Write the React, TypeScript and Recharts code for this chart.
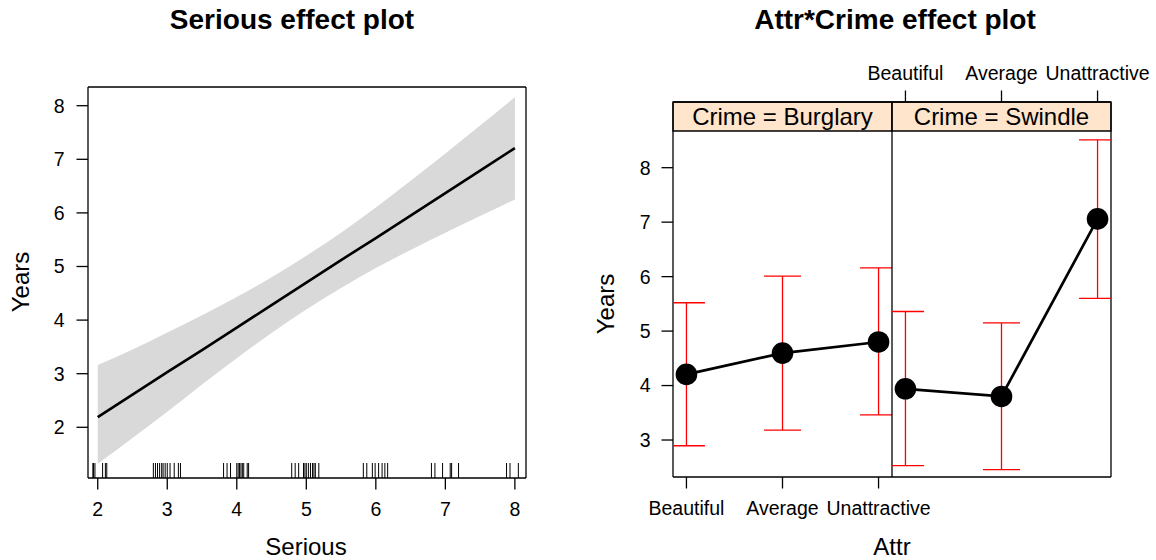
import { Area, ComposedChart, ErrorBar, Line, ReferenceArea, Scatter, XAxis, YAxis } from "recharts";

const FONT = "'Liberation Sans', Arial, Helvetica, sans-serif";

// Serious effect: fitted line and 95% band at half steps
const seriousX = [2, 2.5, 3, 3.5, 4, 4.5, 5, 5.5, 6, 6.5, 7, 7.5, 8];
const seriousFit = [2.19, 2.61, 3.03, 3.44, 3.86, 4.28, 4.7, 5.12, 5.53, 5.95, 6.37, 6.79, 7.21];
const seriousLower = [1.32, 1.8, 2.29, 2.8, 3.29, 3.76, 4.2, 4.6, 4.97, 5.31, 5.63, 5.94, 6.25];
const seriousUpper = [3.16, 3.45, 3.77, 4.09, 4.43, 4.8, 5.2, 5.63, 6.1, 6.6, 7.11, 7.63, 8.16];

// jittered Serious values shown as the rug
const seriousRug = [
  1.93, 1.94, 1.96, 2.07, 2.11, 2.13, 2.8, 2.83, 2.86, 2.89, 2.92, 2.94, 2.97, 3.0, 3.04, 3.1,
  3.16, 3.19, 3.81, 3.86, 3.91, 4.0, 4.02, 4.04, 4.06, 4.08, 4.1, 4.15, 4.17, 4.79, 4.84, 4.89,
  4.96, 4.98, 5.0, 5.03, 5.06, 5.09, 5.11, 5.13, 5.18, 5.82, 5.87, 5.95, 5.99, 6.04, 6.09, 6.13,
  6.17, 6.8, 6.85, 6.96, 7.07, 7.09, 7.19, 7.88, 7.93, 8.05,
];

const seriousTicks = [2, 3, 4, 5, 6, 7, 8];
const yearsTicksLeft = [2, 3, 4, 5, 6, 7, 8];

// Attr*Crime effect
const attrLevels = ["Beautiful", "Average", "Unattractive"];
const burglaryFit = [4.205, 4.596, 4.8];
const burglaryLower = [2.895, 3.18, 3.46];
const burglaryUpper = [5.52, 6.01, 6.16];
const swindleFit = [3.94, 3.8, 7.06];
const swindleLower = [2.53, 2.455, 5.6];
const swindleUpper = [5.36, 5.15, 8.51];
const yearsTicksRight = [3, 4, 5, 6, 7, 8];
const attrTicks = [1, 2, 3];

const SERIOUS_X_DOMAIN: [number, number] = [1.86, 8.16];
const SERIOUS_Y_DOMAIN: [number, number] = [1.054, 8.349];
const ATTR_X_DOMAIN: [number, number] = [0.86, 3.14];
const CRIME_Y_DOMAIN: [number, number] = [2.321, 9.206];
const STRIP_BOTTOM = 8.674;

const TICK = 11.5;
const tickStyle = { fill: "#000", fontSize: 19.5, fontFamily: FONT };
const noMargin = { top: 0, right: 0, bottom: 0, left: 0 };

function RugMark(p: any) {
  return <line x1={p.cx} x2={p.cx} y1={p.cy} y2={p.cy - 15} stroke="#000" strokeWidth={1} />;
}

function SeriousPanel() {
  const rows = seriousX.map((x, i) => ({
    x,
    fit: seriousFit[i],
    band: [seriousLower[i], seriousUpper[i]],
  }));
  const rug = seriousRug.map((x) => ({ x, base: SERIOUS_Y_DOMAIN[0] }));
  return (
    <div style={{ position: "absolute", left: 0, top: 0 }}>
      <ComposedChart width={578} height={560} data={rows} margin={noMargin}>
        <XAxis
          dataKey="x"
          type="number"
          domain={SERIOUS_X_DOMAIN}
          allowDataOverflow
          ticks={seriousTicks}
          interval={0}
          height={82}
          stroke="#000"
          strokeWidth={1.3}
          tickSize={TICK}
          tickMargin={13}
          tick={tickStyle}
        />
        <XAxis
          xAxisId="top"
          orientation="top"
          dataKey="x"
          type="number"
          domain={SERIOUS_X_DOMAIN}
          allowDataOverflow
          ticks={seriousTicks}
          interval={0}
          height={87}
          stroke="#000"
          strokeWidth={1.3}
          tickSize={TICK}
          tick={false}
        />
        <YAxis
          type="number"
          domain={SERIOUS_Y_DOMAIN}
          allowDataOverflow
          ticks={yearsTicksLeft}
          interval={0}
          width={88}
          stroke="#000"
          strokeWidth={1.3}
          tickSize={TICK}
          tickMargin={12}
          tick={tickStyle}
        />
        <YAxis
          yAxisId="right"
          orientation="right"
          type="number"
          domain={SERIOUS_Y_DOMAIN}
          allowDataOverflow
          ticks={yearsTicksLeft}
          interval={0}
          width={52}
          stroke="#000"
          strokeWidth={1.3}
          tickSize={TICK}
          tick={false}
        />
        <Area
          dataKey="band"
          type="monotone"
          stroke="none"
          fill="#d9d9d9"
          fillOpacity={1}
          isAnimationActive={false}
        />
        <Line
          dataKey="fit"
          type="linear"
          stroke="#000"
          strokeWidth={2.6}
          dot={false}
          isAnimationActive={false}
        />
        <Scatter data={rug} dataKey="base" shape={RugMark} isAnimationActive={false} />
      </ComposedChart>
    </div>
  );
}

interface CrimeProps {
  crime: string;
  fit: number[];
  lower: number[];
  upper: number[];
  // plot rectangle inside the 578px wide half, as distances from its edges
  plotLeft: number;
  plotRight: number;
  leftWidth: number;
  rightWidth: number;
  leftLabels: boolean;
  rightTicks: boolean;
  topLabels: boolean;
  bottomLabels: boolean;
}

const PLOT_TOP = 102;
const PLOT_BOTTOM = 83;

function CrimePanel(props: CrimeProps) {
  const { crime, fit, lower, upper } = props;
  const rows = attrLevels.map((name, i) => ({
    x: i + 1,
    name,
    fit: fit[i],
    err: [fit[i] - lower[i], upper[i] - fit[i]],
  }));
  const fmt = (v: number) => attrLevels[v - 1] ?? "";
  const axisMargin = {
    top: 0,
    bottom: 0,
    left: props.plotLeft - props.leftWidth,
    right: props.plotRight - props.rightWidth,
  };
  const seriesMargin = {
    top: PLOT_TOP,
    bottom: PLOT_BOTTOM,
    left: props.plotLeft,
    right: props.plotRight,
  };
  return (
    <>
      <div style={{ position: "absolute", left: 578, top: 0 }}>
        <ComposedChart width={578} height={560} data={rows} margin={axisMargin}>
          <XAxis
            dataKey="x"
            type="number"
            domain={ATTR_X_DOMAIN}
            allowDataOverflow
            ticks={attrTicks}
            interval={0}
            tickFormatter={fmt}
            height={PLOT_BOTTOM}
            stroke="#000"
            strokeWidth={1.3}
            tickSize={TICK}
            tickMargin={13}
            tick={props.bottomLabels ? tickStyle : false}
          />
          <XAxis
            xAxisId="top"
            orientation="top"
            dataKey="x"
            type="number"
            domain={ATTR_X_DOMAIN}
            allowDataOverflow
            ticks={attrTicks}
            interval={0}
            tickFormatter={fmt}
            height={PLOT_TOP}
            stroke="#000"
            strokeWidth={1.3}
            tickSize={TICK}
            tickMargin={11}
            tick={props.topLabels ? tickStyle : false}
          />
          <YAxis
            type="number"
            domain={CRIME_Y_DOMAIN}
            allowDataOverflow
            ticks={yearsTicksRight}
            interval={0}
            width={props.leftWidth}
            stroke="#000"
            strokeWidth={1.3}
            tickSize={TICK}
            tickMargin={11}
            tickLine={props.leftLabels}
            tick={props.leftLabels ? tickStyle : false}
          />
          {props.rightTicks && (
            <YAxis
              yAxisId="right"
              orientation="right"
              type="number"
              domain={CRIME_Y_DOMAIN}
              allowDataOverflow
              ticks={yearsTicksRight}
              interval={0}
              width={props.rightWidth}
              stroke="#000"
              strokeWidth={1.3}
              tickSize={TICK}
              tick={false}
            />
          )}
          <ReferenceArea
            y1={STRIP_BOTTOM}
            y2={CRIME_Y_DOMAIN[1]}
            fill="#ffe5cc"
            fillOpacity={1}
            stroke="#000"
            strokeWidth={1.3}
            ifOverflow="visible"
            label={{
              value: `Crime = ${crime}`,
              position: "center",
              fill: "#000",
              fontSize: 24,
              fontFamily: FONT,
            }}
          />
        </ComposedChart>
      </div>
      {/* series drawn in a second chart clipped to the panel, so caps stop at the frame */}
      <div
        style={{
          position: "absolute",
          left: 578,
          top: 0,
          clipPath: `inset(${PLOT_TOP}px ${props.plotRight}px ${PLOT_BOTTOM}px ${props.plotLeft}px)`,
        }}
      >
        <ComposedChart width={578} height={560} data={rows} margin={seriesMargin}>
          <XAxis dataKey="x" type="number" domain={ATTR_X_DOMAIN} allowDataOverflow hide />
          <YAxis type="number" domain={CRIME_Y_DOMAIN} allowDataOverflow hide />
          <Line
            dataKey="fit"
            type="linear"
            stroke="#000"
            strokeWidth={2.7}
            dot={{ r: 10.8, fill: "#000", stroke: "#000", strokeWidth: 0 }}
            isAnimationActive={false}
          >
            <ErrorBar dataKey="err" direction="y" width={18.5} stroke="#ff0000" strokeWidth={1.3} />
          </Line>
        </ComposedChart>
      </div>
    </>
  );
}

export default function App() {
  const label = { fontFamily: FONT, fill: "#000" };
  return (
    <div
      style={{
        position: "absolute",
        left: 0,
        top: 0,
        width: 1156,
        height: 560,
        background: "#fff",
        overflow: "hidden",
      }}
    >
      <SeriousPanel />
      <CrimePanel
        crime="Burglary"
        fit={burglaryFit}
        lower={burglaryLower}
        upper={burglaryUpper}
        plotLeft={95}
        plotRight={264}
        leftWidth={95}
        rightWidth={0}
        leftLabels
        rightTicks={false}
        topLabels={false}
        bottomLabels
      />
      <CrimePanel
        crime="Swindle"
        fit={swindleFit}
        lower={swindleLower}
        upper={swindleUpper}
        plotLeft={314}
        plotRight={45}
        leftWidth={10}
        rightWidth={45}
        leftLabels={false}
        rightTicks
        topLabels
        bottomLabels={false}
      />
      <svg
        width={1156}
        height={560}
        style={{ position: "absolute", left: 0, top: 0, pointerEvents: "none" }}
      >
        <text {...label} x={292} y={29} textAnchor="middle" fontSize={28} fontWeight="bold">
          Serious effect plot
        </text>
        <text {...label} x={895} y={29} textAnchor="middle" fontSize={28} fontWeight="bold">
          Attr*Crime effect plot
        </text>
        <text {...label} x={306} y={555} textAnchor="middle" fontSize={24}>
          Serious
        </text>
        <text {...label} x={892} y={555} textAnchor="middle" fontSize={24}>
          Attr
        </text>
        <text
          {...label}
          x={0}
          y={0}
          textAnchor="middle"
          fontSize={24}
          transform="translate(28.5,282) rotate(-90)"
        >
          Years
        </text>
        <text
          {...label}
          x={0}
          y={0}
          textAnchor="middle"
          fontSize={24}
          transform="translate(614,304) rotate(-90)"
        >
          Years
        </text>
      </svg>
    </div>
  );
}
